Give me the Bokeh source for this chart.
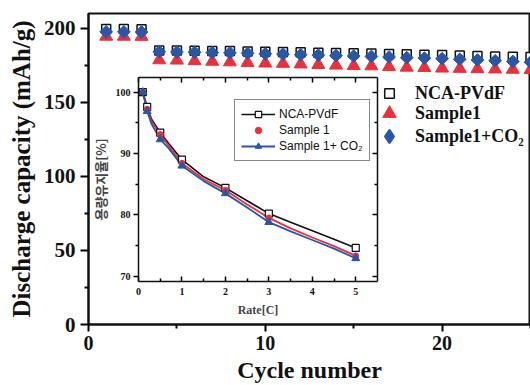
from bokeh.plotting import figure
from bokeh.models import Range1d, LinearAxis, FixedTicker, Legend, LegendItem
from bokeh.embed import file_html
from bokeh.resources import INLINE

# ---------------- data ----------------
cycles = list(range(1, 26))
nca_pvdf = [199.6, 199.5, 199.4, 185.0, 185.0, 184.8, 184.6, 184.6, 184.4, 184.2, 184.0, 183.8,
            183.5, 183.3, 183.2, 183.0, 182.6, 182.4, 182.2, 182.0, 181.6, 181.3, 181.0, 180.8, 180.6]
sample1 = [194.5, 194.5, 194.4, 178.6, 178.4, 178.0, 177.6, 177.2, 176.8, 176.4, 176.2, 175.8,
           175.4, 175.0, 174.7, 174.5, 174.0, 173.6, 173.4, 173.0, 172.8, 172.6, 172.4, 172.2, 172.0]
sample1_co2 = [197.6, 197.6, 197.5, 184.2, 184.0, 183.8, 183.6, 183.4, 183.1, 182.8, 182.6, 182.2,
               181.9, 181.6, 181.3, 181.0, 180.6, 180.2, 179.9, 179.5, 179.1, 178.6, 178.1, 177.6, 177.1]

rates = [0.1, 0.2, 0.3, 0.5, 0.7, 1.0, 1.5, 2.0, 2.5, 3.0, 3.5, 4.0, 4.5, 5.0]
ret_nca = [100.0, 97.6, 95.6, 93.4, 91.6, 89.0, 86.2, 84.4, 82.3, 80.2, 78.8, 77.4, 76.0, 74.6]
ret_s1 = [100.0, 97.2, 95.2, 93.1, 91.2, 88.4, 85.8, 84.0, 81.7, 79.5, 77.8, 76.3, 74.9, 73.3]
ret_co2 = [100.0, 96.9, 94.8, 92.3, 90.8, 88.0, 85.5, 83.5, 81.2, 78.8, 77.3, 75.9, 74.5, 72.9]
marker_idx = [0, 1, 3, 5, 7, 9, 13]   # rates 0.1, 0.2, 0.5, 1, 2, 3, 5 carry markers

main_xticks = [0, 10, 20]
main_yticks = [0, 50, 100, 150, 200]
inset_xticks = [0, 1, 2, 3, 4, 5]
inset_yticks = [70, 80, 90, 100]

RED = "#e8313c"
BLUE = "#2a56a8"
BLACK = "#111111"
SERIF = "Liberation Serif"

# ---------------- main figure ----------------
p = figure(width=530, height=385, x_range=Range1d(0, 25), y_range=Range1d(0, 210),
           output_backend="svg", toolbar_location=None,
           min_border_left=88, min_border_right=0, min_border_top=13, min_border_bottom=57)
p.grid.visible = False
p.outline_line_color = BLACK
p.outline_line_width = 2
p.background_fill_color = "white"
p.border_fill_color = "white"

for ax in (p.xaxis[0], p.yaxis[0]):
    ax.axis_line_width = 2
    ax.axis_line_color = BLACK
    ax.major_tick_line_width = 2
    ax.minor_tick_line_width = 2
    ax.major_tick_in = 0
    ax.minor_tick_in = 0
    ax.major_label_text_font = SERIF
    ax.major_label_text_font_style = "bold"
    ax.major_label_text_color = BLACK
    ax.axis_label_text_font = SERIF
    ax.axis_label_text_font_style = "bold"
    ax.axis_label_text_color = BLACK

p.xaxis[0].ticker = FixedTicker(ticks=main_xticks, minor_ticks=[5, 15, 25])
p.xaxis[0].major_tick_out = 7
p.xaxis[0].minor_tick_out = 4
p.xaxis[0].major_label_standoff = 4
p.xaxis[0].major_label_text_font_size = "20px"
p.xaxis[0].axis_label = "Cycle number"
p.xaxis[0].axis_label_text_font_size = "24px"
p.xaxis[0].axis_label_standoff = 4

p.yaxis[0].ticker = FixedTicker(ticks=main_yticks, minor_ticks=[25, 75, 125, 175])
p.yaxis[0].major_tick_out = 8
p.yaxis[0].minor_tick_out = 4
p.yaxis[0].major_label_standoff = 5
p.yaxis[0].major_label_text_font_size = "21px"
p.yaxis[0].axis_label = "Discharge capacity (mAh/g)"
p.yaxis[0].axis_label_text_font_size = "25px"
p.yaxis[0].axis_label_standoff = 6

r_sq = p.scatter(cycles, nca_pvdf, marker="square", size=9, fill_color="white",
                 line_color=BLACK, line_width=1.5)
r_tri = p.scatter(cycles, sample1, marker="triangle", size=13, fill_color=RED, line_color=RED)
r_dia = p.scatter(cycles, sample1_co2, marker="square", size=9, angle=0.785398,
                  fill_color=BLUE, line_color=BLUE)
# legend-only twin of the blue series (drawn at size 0, shown as a diamond in the key)
r_dia_leg = p.scatter(cycles, sample1_co2, marker="diamond", size=0, fill_color=BLUE,
                      line_color=BLUE, line_width=2)

def main_leg(label, rend, w, y):
    leg = Legend(items=[LegendItem(label=label, renderers=[rend])],
                 location=(389 - 88 - w / 2, y), glyph_width=w, glyph_height=w,
                 label_standoff=int(round(26 - w / 2)), padding=0, margin=0, spacing=0,
                 background_fill_alpha=0, border_line_alpha=0,
                 label_text_font=SERIF, label_text_font_style="bold",
                 label_text_font_size="18px", label_text_color=BLACK)
    p.add_layout(leg, "center")

main_leg("NCA-PVdF", r_sq, 24, 219)
main_leg("Sample1", r_tri, 34, 194)
main_leg("Sample1+CO\u2082", r_dia_leg, 34, 171)

# ---------------- inset (own ranges, axes fixed inside the frame) ----------------
X0, X1 = 0.0, 5.5
Y0, Y1 = 69.2, 102.37
pxx = 239 / (X1 - X0)
pxy = 206 / (Y1 - Y0)
p.extra_x_ranges = {"rx": Range1d(X0 - 50 / pxx, X1 + 153 / pxx)}
p.extra_y_ranges = {"ry": Range1d(Y0 - 44 / pxy, Y1 + 65 / pxy)}

p.quad(left=[X0], right=[X1], bottom=[Y0], top=[Y1], fill_color="white", line_color=None,
       x_range_name="rx", y_range_name="ry")

def inset_axis(side, loc, ticks, minors, bounds, labels=True):
    ax = LinearAxis(x_range_name="rx", y_range_name="ry", fixed_location=loc, bounds=bounds,
                    ticker=FixedTicker(ticks=ticks, minor_ticks=minors),
                    axis_line_width=1.5, axis_line_color=BLACK,
                    major_tick_line_width=1.5, minor_tick_line_width=1.5,
                    major_label_text_font=SERIF, major_label_text_font_style="bold",
                    major_label_text_font_size="10px", major_label_text_color=BLACK)
    if not labels:
        ax.major_label_text_alpha = 0
    p.add_layout(ax, side)
    return ax

xb = inset_axis("below", Y0, inset_xticks, [0.5, 1.5, 2.5, 3.5, 4.5], (X0, X1))
xb.major_tick_in, xb.major_tick_out, xb.minor_tick_in, xb.minor_tick_out = 5, 0, 3, 0
xb.major_label_standoff = 7
xb.axis_label = "Rate[C]"
xb.axis_label_text_font = SERIF
xb.axis_label_text_font_style = "bold"
xb.axis_label_text_font_size = "12px"
xb.axis_label_standoff = 4

xt = inset_axis("above", Y1, inset_xticks, [0.5, 1.5, 2.5, 3.5, 4.5], (X0, X1), labels=False)
xt.major_tick_in, xt.major_tick_out, xt.minor_tick_in, xt.minor_tick_out = 5, 0, 3, 0

yl = inset_axis("left", X0, inset_yticks, [75, 85, 95], (Y0, Y1))
yl.major_tick_in, yl.major_tick_out, yl.minor_tick_in, yl.minor_tick_out = 0, 5, 0, 3
yl.major_label_standoff = 3
yl.axis_label = "용량유지율[%]"
yl.axis_label_text_font = "Noto Sans CJK KR"
yl.axis_label_text_font_style = "bold"
yl.axis_label_text_font_size = "13px"
yl.axis_label_standoff = 3

yr = inset_axis("right", X1, inset_yticks, [75, 85, 95], (Y0, Y1), labels=False)
yr.major_tick_in, yr.major_tick_out, yr.minor_tick_in, yr.minor_tick_out = 5, 0, 3, 0

mr = [rates[i] for i in marker_idx]
l_nca = p.line(rates, ret_nca, line_color=BLACK, line_width=1.6, x_range_name="rx", y_range_name="ry")
l_s1 = p.line(rates, ret_s1, line_color=RED, line_width=1.8, x_range_name="rx", y_range_name="ry")
l_co2 = p.line(rates, ret_co2, line_color=BLUE, line_width=1.8, x_range_name="rx", y_range_name="ry")
m_nca = p.scatter(mr, [ret_nca[i] for i in marker_idx], marker="square", size=7, fill_color="white",
                  line_color=BLACK, line_width=1.2, x_range_name="rx", y_range_name="ry")
m_s1 = p.scatter(mr, [ret_s1[i] for i in marker_idx], marker="circle", size=6, fill_color=RED,
                 line_color=RED, x_range_name="rx", y_range_name="ry")
m_co2 = p.scatter(mr, [ret_co2[i] for i in marker_idx], marker="triangle", size=8, fill_color=BLUE,
                  line_color=BLUE, x_range_name="rx", y_range_name="ry")

inset_leg = Legend(items=[LegendItem(label="NCA-PVdF", renderers=[l_nca, m_nca]),
                          LegendItem(label="Sample 1", renderers=[m_s1]),
                          LegendItem(label="Sample 1+ CO\u2082", renderers=[l_co2, m_co2])],
                   location=(146, 163), glyph_width=34, glyph_height=16, label_height=16,
                   label_standoff=4, padding=6, margin=0, spacing=0,
                   border_line_color=BLACK, border_line_width=1.5, background_fill_color="white",
                   label_text_font="Liberation Sans", label_text_font_size="12px",
                   label_text_color=BLACK)
p.add_layout(inset_leg, "center")

open("out.html", "w").write(file_html(p, INLINE))
